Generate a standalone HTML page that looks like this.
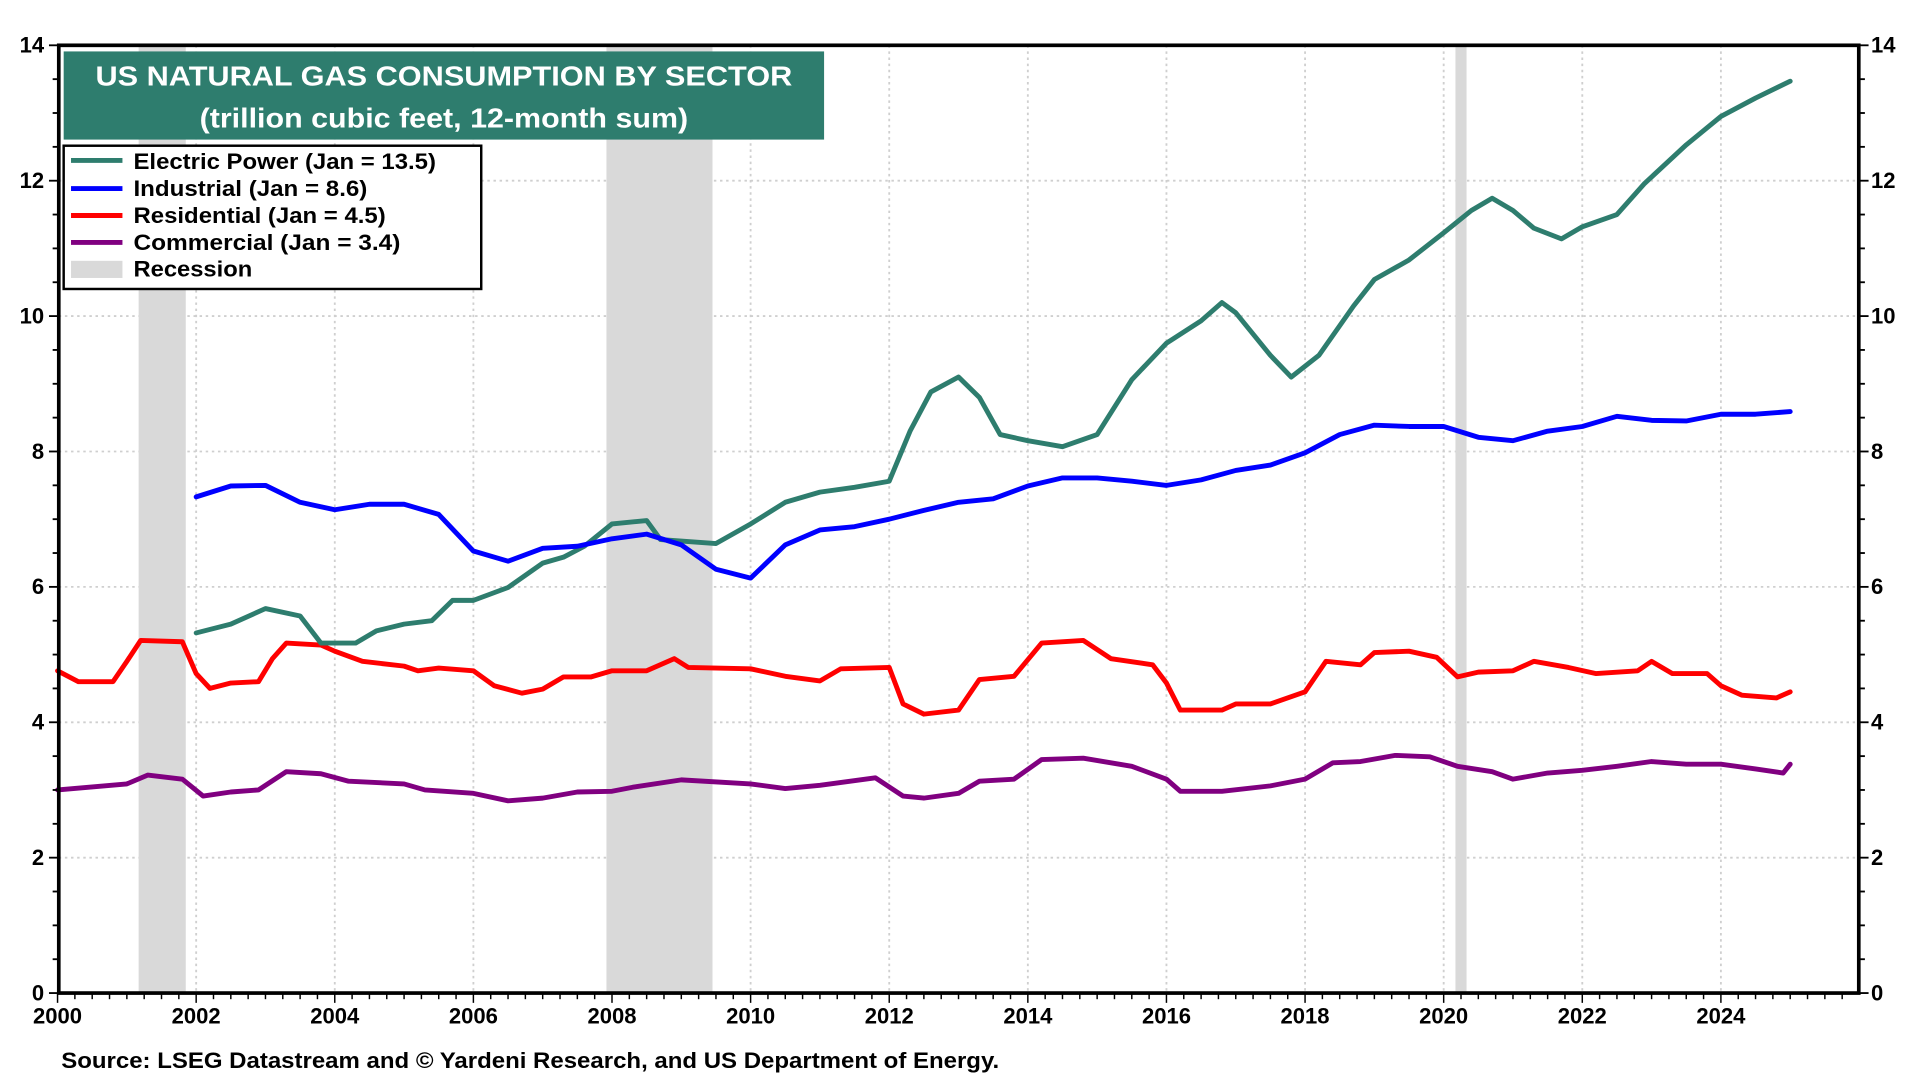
<!DOCTYPE html>
<html><head><meta charset="utf-8"><style>
html,body{margin:0;padding:0;background:#fff;width:1920px;height:1080px;overflow:hidden}
svg text{font-family:"Liberation Sans",Arial,sans-serif;font-weight:bold}
</style></head><body>
<svg id="chart" width="1920" height="1080" viewBox="0 0 1568 882" xmlns="http://www.w3.org/2000/svg">
<g id="grid"></g>
<g id="rec"></g>
<g id="series"></g>
<g id="axes"></g>
<rect x="52" y="42" width="621" height="72" fill="#2e7d6e"/>
<text x="78" y="70" textLength="569" lengthAdjust="spacingAndGlyphs" fill="#fff" font-size="23">US NATURAL GAS CONSUMPTION BY SECTOR</text>
<text x="163" y="104" textLength="399" lengthAdjust="spacingAndGlyphs" fill="#fff" font-size="23">(trillion cubic feet, 12-month sum)</text>
<g>
<rect x="52" y="119" width="341" height="117" fill="#fff" stroke="#000" stroke-width="2"/>
<line x1="58" y1="131" x2="100" y2="131" stroke="#2e7d6e" stroke-width="4"/>
<text x="109" y="138" textLength="247" lengthAdjust="spacingAndGlyphs" font-size="18">Electric Power (Jan = 13.5)</text>
<line x1="58" y1="154" x2="100" y2="154" stroke="#0000ff" stroke-width="4"/>
<text x="109" y="160" textLength="191" lengthAdjust="spacingAndGlyphs" font-size="18">Industrial (Jan = 8.6)</text>
<line x1="58" y1="176" x2="100" y2="176" stroke="#ff0000" stroke-width="4"/>
<text x="109" y="182" textLength="206" lengthAdjust="spacingAndGlyphs" font-size="18">Residential (Jan = 4.5)</text>
<line x1="58" y1="198" x2="100" y2="198" stroke="#800080" stroke-width="4"/>
<text x="109" y="204" textLength="218" lengthAdjust="spacingAndGlyphs" font-size="18">Commercial  (Jan = 3.4)</text>
<rect x="58" y="213" width="42" height="14" fill="#d9d9d9"/>
<text x="109" y="226" textLength="97" lengthAdjust="spacingAndGlyphs" font-size="18">Recession</text>
</g>
<text x="50" y="872" textLength="766" lengthAdjust="spacingAndGlyphs" font-size="18">Source: LSEG Datastream and © Yardeni Research, and US Department of Energy.</text>
</svg>
<script>
const elecYears=[2002,2002.5,2003,2003.5,2003.8,2004.3,2004.6,2005,2005.4,2005.7,2006,2006.5,2007,2007.3,2007.6,2008,2008.5,2008.7,2009.5,2010,2010.5,2011,2011.5,2012,2012.3,2012.6,2013,2013.3,2013.6,2014,2014.5,2015,2015.5,2016,2016.5,2016.8,2017,2017.5,2017.8,2018.2,2018.7,2019,2019.5,2020,2020.4,2020.7,2021,2021.3,2021.7,2022,2022.5,2022.9,2023.5,2024,2024.5,2025];
const elecVals=[5.32,5.45,5.68,5.57,5.17,5.17,5.35,5.45,5.5,5.8,5.8,5.99,6.35,6.44,6.6,6.93,6.98,6.7,6.64,6.93,7.25,7.4,7.47,7.56,8.3,8.88,9.1,8.8,8.25,8.16,8.07,8.25,9.06,9.6,9.93,10.2,10.05,9.42,9.1,9.42,10.15,10.54,10.83,11.23,11.56,11.74,11.56,11.3,11.14,11.32,11.5,11.96,12.53,12.95,13.22,13.47];
const indYears=[2002,2002.5,2003,2003.5,2004,2004.5,2005,2005.5,2006,2006.5,2007,2007.5,2008,2008.5,2009,2009.5,2010,2010.5,2011,2011.5,2012,2012.5,2013,2013.5,2014,2014.5,2015,2015.5,2016,2016.5,2017,2017.5,2018,2018.5,2019,2019.5,2020,2020.5,2021,2021.5,2022,2022.5,2023,2023.5,2024,2024.5,2025];
const indVals=[7.33,7.49,7.5,7.25,7.14,7.22,7.22,7.07,6.53,6.38,6.57,6.6,6.71,6.78,6.62,6.26,6.13,6.62,6.84,6.89,7.0,7.13,7.25,7.3,7.49,7.61,7.61,7.56,7.5,7.58,7.72,7.8,7.98,8.25,8.39,8.37,8.37,8.21,8.16,8.3,8.37,8.52,8.46,8.45,8.55,8.55,8.59];
const resYears=[2000,2000.3,2000.8,2001,2001.2,2001.8,2002,2002.2,2002.5,2002.9,2003.1,2003.3,2003.8,2004,2004.4,2005,2005.2,2005.5,2006,2006.3,2006.7,2007,2007.3,2007.7,2008,2008.5,2008.9,2009.1,2010,2010.5,2011,2011.3,2012,2012.2,2012.5,2013,2013.3,2013.8,2014.2,2014.8,2015.2,2015.8,2016,2016.2,2016.8,2017,2017.5,2018,2018.3,2018.8,2019,2019.5,2019.9,2020.2,2020.5,2021,2021.3,2021.8,2022.2,2022.8,2023,2023.3,2023.8,2024,2024.3,2024.8,2025];
const resVals=[4.76,4.6,4.6,4.9,5.21,5.19,4.72,4.5,4.58,4.6,4.94,5.17,5.14,5.05,4.9,4.83,4.76,4.8,4.76,4.54,4.43,4.49,4.67,4.67,4.76,4.76,4.94,4.81,4.79,4.68,4.61,4.79,4.81,4.27,4.12,4.18,4.63,4.68,5.17,5.21,4.94,4.85,4.58,4.18,4.18,4.27,4.27,4.45,4.9,4.85,5.03,5.05,4.96,4.67,4.74,4.76,4.9,4.81,4.72,4.76,4.9,4.72,4.72,4.54,4.4,4.36,4.45];
const comYears=[2000,2001,2001.3,2001.8,2002.1,2002.5,2002.9,2003.3,2003.8,2004.2,2005,2005.3,2006,2006.5,2007,2007.5,2008,2008.3,2009,2010,2010.5,2011,2011.8,2012.2,2012.5,2013,2013.3,2013.8,2014.2,2014.8,2015.5,2016,2016.2,2016.8,2017.5,2018,2018.4,2018.8,2019.3,2019.8,2020.2,2020.7,2021,2021.5,2022,2022.5,2023,2023.5,2024,2024.5,2024.9,2025];
const comVals=[3.0,3.09,3.22,3.16,2.91,2.97,3.0,3.27,3.24,3.13,3.09,3.0,2.95,2.84,2.88,2.97,2.98,3.04,3.15,3.09,3.02,3.07,3.18,2.91,2.88,2.95,3.13,3.16,3.45,3.47,3.35,3.16,2.98,2.98,3.06,3.16,3.4,3.42,3.51,3.49,3.35,3.27,3.16,3.25,3.29,3.35,3.42,3.38,3.38,3.31,3.25,3.38];
const recStarts=[2001.17,2007.92,2020.17];
const recEnds=[2001.85,2009.45,2020.33];
const yTicks=[0,2,4,6,8,10,12,14];
const xTickYears=[2000,2002,2004,2006,2008,2010,2012,2014,2016,2018,2020,2022,2024];

const L=48,R=1518,T=37,B=811;
const X=y=>47+(y-2000)*56.6;
const Y=v=>B-v*(B-T)/14;
const NS="http://www.w3.org/2000/svg";
function mk(tag,attrs,parent){const e=document.createElementNS(NS,tag);for(const k in attrs)e.setAttribute(k,attrs[k]);document.getElementById(parent).appendChild(e);return e;}

yTicks.forEach(v=>{if(v>0&&v<14){const g=mk('line',{x1:L,x2:R,y1:Y(v),y2:Y(v),stroke:'#cfcfcf','stroke-width':1.5,'stroke-dasharray':'2,3'},'grid');

}});
xTickYears.forEach(y=>{if(y>2000){const g=mk('line',{x1:X(y),x2:X(y),y1:T,y2:B,stroke:'#cfcfcf','stroke-width':1.5,'stroke-dasharray':'2,3'},'grid');

}});
recStarts.forEach((s,i)=>{const r=mk('rect',{x:X(s),y:T,width:X(recEnds[i])-X(s),height:B-T,fill:'#d9d9d9'},'rec');

});

function line(xs,vs,color,name){const d=xs.map((x,i)=>(i?'L':'M')+X(x).toFixed(1)+','+Y(vs[i]).toFixed(1)).join('');
const p=mk('path',{d:d,fill:'none',stroke:color,'stroke-width':4,'stroke-linejoin':'round','stroke-linecap':'round'},'series');

}
line(comYears,comVals,'#800080','commercial-line');
line(resYears,resVals,'#ff0000','residential-line');
line(elecYears,elecVals,'#2e7d6e','electric-power-line');
line(indYears,indVals,'#0000ff','industrial-line');

const fr=mk('rect',{x:L,y:T,width:R-L,height:B-T,fill:'none',stroke:'#000','stroke-width':3},'axes');


for(let v=0;v<=14;v+=0.5){const maj=v%2===0;const len=maj?8:5;
mk('line',{x1:L-len,x2:L,y1:Y(v),y2:Y(v),stroke:'#000','stroke-width':1.5},'axes');
mk('line',{x1:R,x2:R+len,y1:Y(v),y2:Y(v),stroke:'#000','stroke-width':1.5},'axes');}
yTicks.forEach(v=>{const a=mk('text',{x:36,y:Y(v)+6,'text-anchor':'end','font-size':18},'axes');a.textContent=v;


const b=mk('text',{x:1528,y:Y(v)+6,'font-size':18},'axes');b.textContent=v;

});
for(let y=2000;y<=2026;y+=0.25){if(X(y)>R)break;const maj=Number.isInteger(y)&&y%2===0;
mk('line',{x1:X(y),x2:X(y),y1:B,y2:B+(maj?8:5),stroke:'#000','stroke-width':1.2},'axes');}
xTickYears.forEach(y=>{const t=mk('text',{x:X(y),y:B+25,'text-anchor':'middle','font-size':18},'axes');t.textContent=y;

});
</script>
</body></html>
